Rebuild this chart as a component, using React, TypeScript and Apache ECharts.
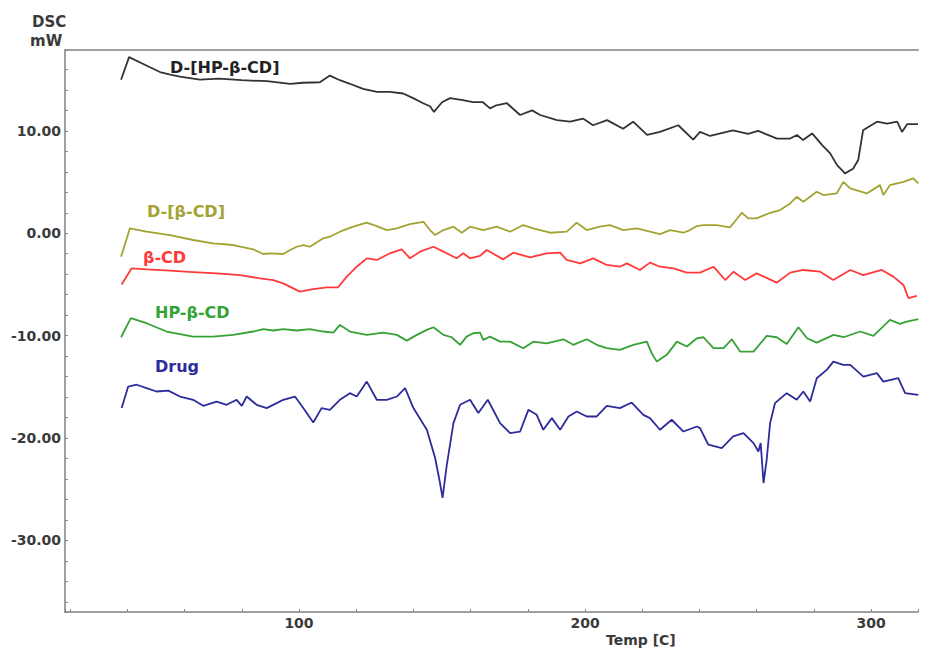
import React, { useEffect, useRef } from "react";
import * as echarts from "echarts";

// [temperature (C), heat flow (mW)]
const hpbcdComplex: number[][] = [
  [37.8, 15.0], [40.6, 17.2], [45, 16.6], [51.4, 15.75], [55, 15.5], [58.4, 15.3], [65.4, 15.0], [72, 15.1],
  [80, 14.95], [88.8, 14.85], [96.9, 14.6], [101.4, 14.7], [107.3, 14.75], [110.8, 15.4], [114.3, 14.95],
  [117.8, 14.6], [122.4, 14.1], [127.3, 13.8], [131.8, 13.8], [136.4, 13.65], [139.9, 13.2], [143.4, 12.7],
  [145.8, 12.4], [147.2, 11.85], [150.0, 12.8], [152.8, 13.2], [157.3, 13.0], [160.8, 12.8], [164.3, 12.8],
  [166.8, 12.2], [169, 12.5], [172.7, 12.7], [177.3, 11.55], [181.5, 12.0], [184.3, 11.55], [190.2, 11.05],
  [194.8, 10.9], [199.3, 11.2], [202.8, 10.55], [207.7, 11.05], [213.3, 10.2], [216.8, 10.9], [221.7, 9.6],
  [226.2, 9.9], [232.6, 10.55], [237.8, 9.15], [240.2, 9.9], [243.7, 9.5], [251.7, 10.05], [257.0, 9.7],
  [260.5, 10.0], [267.1, 9.25], [271.7, 9.25], [274.1, 9.6], [276.2, 9.1], [279.4, 9.75], [282.9, 8.6],
  [285.7, 7.8], [288.1, 6.65], [290.9, 5.85], [293.7, 6.3], [295.5, 7.15], [297.2, 10.05], [298.6, 10.3],
  [302.1, 10.9], [305.6, 10.7], [309.1, 10.9], [310.8, 9.9], [312.6, 10.65], [316.4, 10.65],
];

const bcdComplex: number[][] = [
  [37.8, -2.3], [40.9, 0.48], [46.7, 0.15], [54.9, -0.18], [63.0, -0.66], [70.0, -0.99], [77.0, -1.15],
  [84.0, -1.57], [87.5, -2.03], [89.9, -1.96], [94.5, -2.03], [96.9, -1.64], [99.2, -1.32], [101.5, -1.15],
  [103.8, -1.32], [108.5, -0.5], [110.8, -0.34], [114.3, 0.15], [119.0, 0.64], [123.7, 1.03], [127.2, 0.7],
  [130.7, 0.31], [134.2, 0.48], [138.8, 0.9], [143.5, 1.12], [145.8, 0.31], [147.6, -0.18], [150.5, 0.31],
  [154.0, 0.64], [156.9, 0.05], [159.8, 0.64], [164.4, 0.31], [169.1, 0.64], [173.8, 0.15], [178.4, 0.8],
  [181.9, 0.48], [187.8, 0.05], [193.6, 0.15], [197.1, 1.03], [200.6, 0.31], [205.2, 0.64], [208.7, 0.8],
  [213.4, 0.31], [218.1, 0.48], [222.7, 0.15], [226.2, -0.08], [229.7, 0.31], [234.4, 0.05], [236.7, 0.31],
  [239.1, 0.7], [241.4, 0.8], [246.0, 0.8], [250.7, 0.57], [254.8, 2.0], [257.1, 1.45], [260.0, 1.45],
  [264.7, 2.0], [268.2, 2.26], [271.7, 2.91], [274.0, 3.56], [276.3, 3.07], [281.0, 4.05], [283.3, 3.73],
  [288.0, 3.89], [290.3, 5.02], [292.7, 4.38], [298.5, 3.89], [303.1, 4.7], [304.3, 3.73], [306.6, 4.7],
  [311.3, 5.02], [314.8, 5.35], [316.5, 4.86],
];

const bcd: number[][] = [
  [38.0, -5.0], [41.5, -3.43], [46.7, -3.53], [54.9, -3.66], [63.0, -3.79], [71.2, -3.92], [79.4, -4.09],
  [86.4, -4.41], [91.0, -4.58], [94.5, -4.9], [100.3, -5.7], [105.0, -5.47], [109.7, -5.28], [113.7, -5.28],
  [116.7, -4.24], [120.2, -3.27], [123.7, -2.45], [127.2, -2.61], [131.8, -1.96], [135.9, -1.57],
  [138.8, -2.45], [142.3, -1.8], [147.0, -1.32], [150.5, -1.8], [155.1, -2.45], [157.4, -1.96],
  [159.8, -2.45], [163.3, -2.2], [165.6, -1.64], [171.4, -2.55], [174.9, -1.9], [180.8, -2.35],
  [186.6, -1.96], [191.3, -1.9], [193.6, -2.61], [198.3, -2.94], [202.9, -2.45], [207.6, -3.1],
  [212.2, -3.27], [214.6, -2.94], [219.2, -3.59], [222.7, -2.87], [226.2, -3.27], [230.9, -3.43],
  [235.6, -3.85], [240.2, -3.85], [244.9, -3.27], [249.0, -4.57], [251.9, -3.76], [256.0, -4.57],
  [260.0, -3.92], [267.0, -4.83], [271.7, -3.85], [276.3, -3.59], [282.2, -3.76], [286.8, -4.57],
  [292.7, -3.59], [297.3, -4.09], [303.7, -3.59], [307.8, -4.24], [311.3, -5.05], [313.1, -6.35], [316.0, -6.13],
];

const hpbcd: number[][] = [
  [37.8, -10.16], [41.2, -8.3], [46.7, -8.79], [53.7, -9.6], [63.0, -10.1], [70.0, -10.1], [77.0, -9.93],
  [84.0, -9.6], [87.5, -9.37], [91.0, -9.5], [94.5, -9.37], [99.2, -9.5], [103.8, -9.37], [108.5, -9.6],
  [112.0, -9.7], [114.3, -8.96], [117.8, -9.6], [123.7, -9.93], [129.5, -9.7], [134.2, -9.93],
  [137.7, -10.49], [141.2, -9.93], [144.7, -9.44], [147.0, -9.18], [150.5, -9.93], [153.4, -10.16],
  [156.3, -10.9], [158.6, -10.1], [160.9, -9.77], [163.3, -9.7], [164.4, -10.42], [166.8, -10.1],
  [170.3, -10.59], [173.8, -10.59], [178.4, -11.23], [181.9, -10.59], [186.6, -10.75], [192.4, -10.36],
  [195.9, -10.9], [200.6, -10.36], [204.1, -10.9], [207.6, -11.23], [212.2, -11.4], [216.9, -10.9],
  [221.6, -10.59], [223.3, -11.72], [225.1, -12.54], [228.6, -11.88], [232.1, -10.59], [235.6, -11.07],
  [239.1, -10.26], [241.4, -10.16], [244.9, -11.23], [248.4, -11.23], [251.3, -10.36], [254.2, -11.56],
  [258.9, -11.56], [263.5, -10.03], [267.0, -10.16], [270.5, -10.81], [274.6, -9.18], [277.6, -10.26],
  [281.0, -10.68], [286.9, -9.93], [290.4, -10.16], [296.2, -9.6], [300.8, -10.03], [306.6, -8.47],
  [310.1, -8.86], [312.5, -8.63], [316.5, -8.4],
];

const drug: number[][] = [
  [38.0, -17.08], [40.3, -14.98], [43.3, -14.8], [46.7, -15.13], [50.2, -15.46], [54.3, -15.37],
  [58.4, -15.95], [63.0, -16.27], [66.5, -16.86], [71.2, -16.44], [74.7, -16.76], [78.2, -16.27],
  [80.0, -16.86], [81.7, -15.95], [85.2, -16.76], [88.7, -17.08], [92.2, -16.6], [94.5, -16.27],
  [98.6, -15.95], [101.5, -17.08], [105.0, -18.49], [107.9, -17.08], [110.8, -17.25], [114.3, -16.27],
  [117.8, -15.62], [120.2, -15.95], [123.7, -14.49], [127.2, -16.27], [130.7, -16.27], [134.2, -15.95],
  [137.1, -15.13], [140.0, -17.08], [144.7, -19.2], [147.6, -21.96], [149.3, -24.4], [150.2, -25.86],
  [151.6, -22.78], [154.0, -18.55], [156.3, -16.76], [159.8, -16.27], [162.7, -17.57], [166.0, -16.27],
  [170.3, -18.55], [173.8, -19.53], [177.3, -19.37], [180.2, -17.25], [183.1, -17.74], [185.4, -19.2],
  [188.4, -18.06], [191.3, -19.2], [194.2, -17.9], [197.1, -17.41], [200.6, -17.9], [204.1, -17.9],
  [207.6, -16.86], [212.2, -17.08], [216.3, -16.54], [220.4, -17.74], [222.7, -18.06], [226.2, -19.2],
  [230.3, -18.22], [234.4, -19.37], [239.1, -18.88], [240.2, -19.04], [243.1, -20.66], [247.8, -20.99],
  [251.8, -19.85], [255.4, -19.53], [258.9, -20.5], [260.6, -21.32], [261.4, -20.5], [262.4, -24.4],
  [263.5, -22.13], [264.7, -18.55], [266.4, -16.6], [270.5, -15.62], [274.0, -16.27], [276.3, -15.46],
  [278.7, -16.44], [281.0, -14.16], [284.5, -13.35], [286.8, -12.54], [290.3, -12.86], [292.7, -12.86],
  [297.3, -14.0], [302.0, -13.67], [304.3, -14.49], [309.5, -14.16], [311.9, -15.62], [316.5, -15.78],
];

const seriesNames = ["D-[HP-β-CD]", "D-[β-CD]", "β-CD", "HP-β-CD", "Drug"];
const seriesColors = ["#333333", "#a3a332", "#ff3a3a", "#36a236", "#2c2c9c"];
const seriesData = [hpbcdComplex, bcdComplex, bcd, hpbcd, drug];

const xMin = 18.2;
const xMax = 316.4;
const yMin = -37;
const yMax = 17.9;

export default function App() {
  const ref = useRef<HTMLDivElement>(null);
  useEffect(() => {
    document.body.style.margin = "0";
    const chart = echarts.init(ref.current!, null, { renderer: "svg" });
    const font = "DejaVu Sans";
    const axisColor = "#a0a0a0";
    const labelColor = "#3a3a3a";
    chart.setOption({
      animation: false,
      backgroundColor: "#ffffff",
      grid: { left: 65, right: 13, top: 50, bottom: 38, containLabel: false },
      xAxis: [
        {
          type: "value",
          min: xMin,
          max: xMax,
          splitNumber: 15,
          axisLine: { show: true, onZero: false, lineStyle: { color: axisColor, width: 2 } },
          axisTick: { show: true, inside: true, length: 3, lineStyle: { color: "#888888", width: 1 } },
          splitLine: { show: false },
          axisLabel: {
            show: true,
            margin: 4,
            color: labelColor,
            fontFamily: font,
            fontWeight: "bold",
            fontSize: 14,
            formatter: (v: number) => (Math.abs(v % 100) < 1e-6 ? String(Math.round(v)) : ""),
          },
        },
        {
          type: "value",
          position: "top",
          min: xMin,
          max: xMax,
          axisLine: { show: true, onZero: false, lineStyle: { color: axisColor, width: 2 } },
          axisTick: { show: false },
          axisLabel: { show: false },
          splitLine: { show: false },
        },
      ],
      yAxis: {
        type: "value",
        min: yMin,
        max: yMax,
        splitNumber: 27,
        axisLine: { show: true, onZero: false, lineStyle: { color: axisColor, width: 2 } },
        axisTick: { show: true, inside: true, length: 3, lineStyle: { color: "#888888", width: 1 } },
        splitLine: { show: false },
        axisLabel: {
          show: true,
          margin: 4,
          color: labelColor,
          fontFamily: font,
          fontWeight: "bold",
          fontSize: 14,
          formatter: (v: number) => (Math.abs(v % 10) < 1e-6 ? v.toFixed(2) : ""),
        },
      },
      series: seriesData.map((d, i) => ({
        name: seriesNames[i],
        type: "line",
        data: d,
        showSymbol: false,
        symbol: "none",
        xAxisIndex: 0,
        lineStyle: { color: seriesColors[i], width: 1.8 },
        itemStyle: { color: seriesColors[i] },
        z: 2,
      })),
      graphic: [
        { type: "text", left: 32, top: 14, style: { text: "DSC", fill: labelColor, font: `bold 15px '${font}'` } },
        { type: "text", left: 30, top: 33, style: { text: "mW", fill: labelColor, font: `bold 15px '${font}'` } },
        { type: "text", left: 606, top: 633, style: { text: "Temp [C]", fill: labelColor, font: `bold 14px '${font}'` } },
        { type: "text", left: 170, top: 59, z: 10, style: { text: seriesNames[0], fill: "#222222", font: `bold 16px '${font}'` } },
        { type: "text", left: 147, top: 203, z: 10, style: { text: seriesNames[1], fill: seriesColors[1], font: `bold 16px '${font}'` } },
        { type: "text", left: 143, top: 249, z: 10, style: { text: seriesNames[2], fill: seriesColors[2], font: `bold 16px '${font}'` } },
        { type: "text", left: 155, top: 304, z: 10, style: { text: seriesNames[3], fill: seriesColors[3], font: `bold 16px '${font}'` } },
        { type: "text", left: 155, top: 358, z: 10, style: { text: seriesNames[4], fill: seriesColors[4], font: `bold 16px '${font}'` } },
      ],
    });
    return () => chart.dispose();
  }, []);
  return <div ref={ref} style={{ width: 931, height: 650 }} />;
}
